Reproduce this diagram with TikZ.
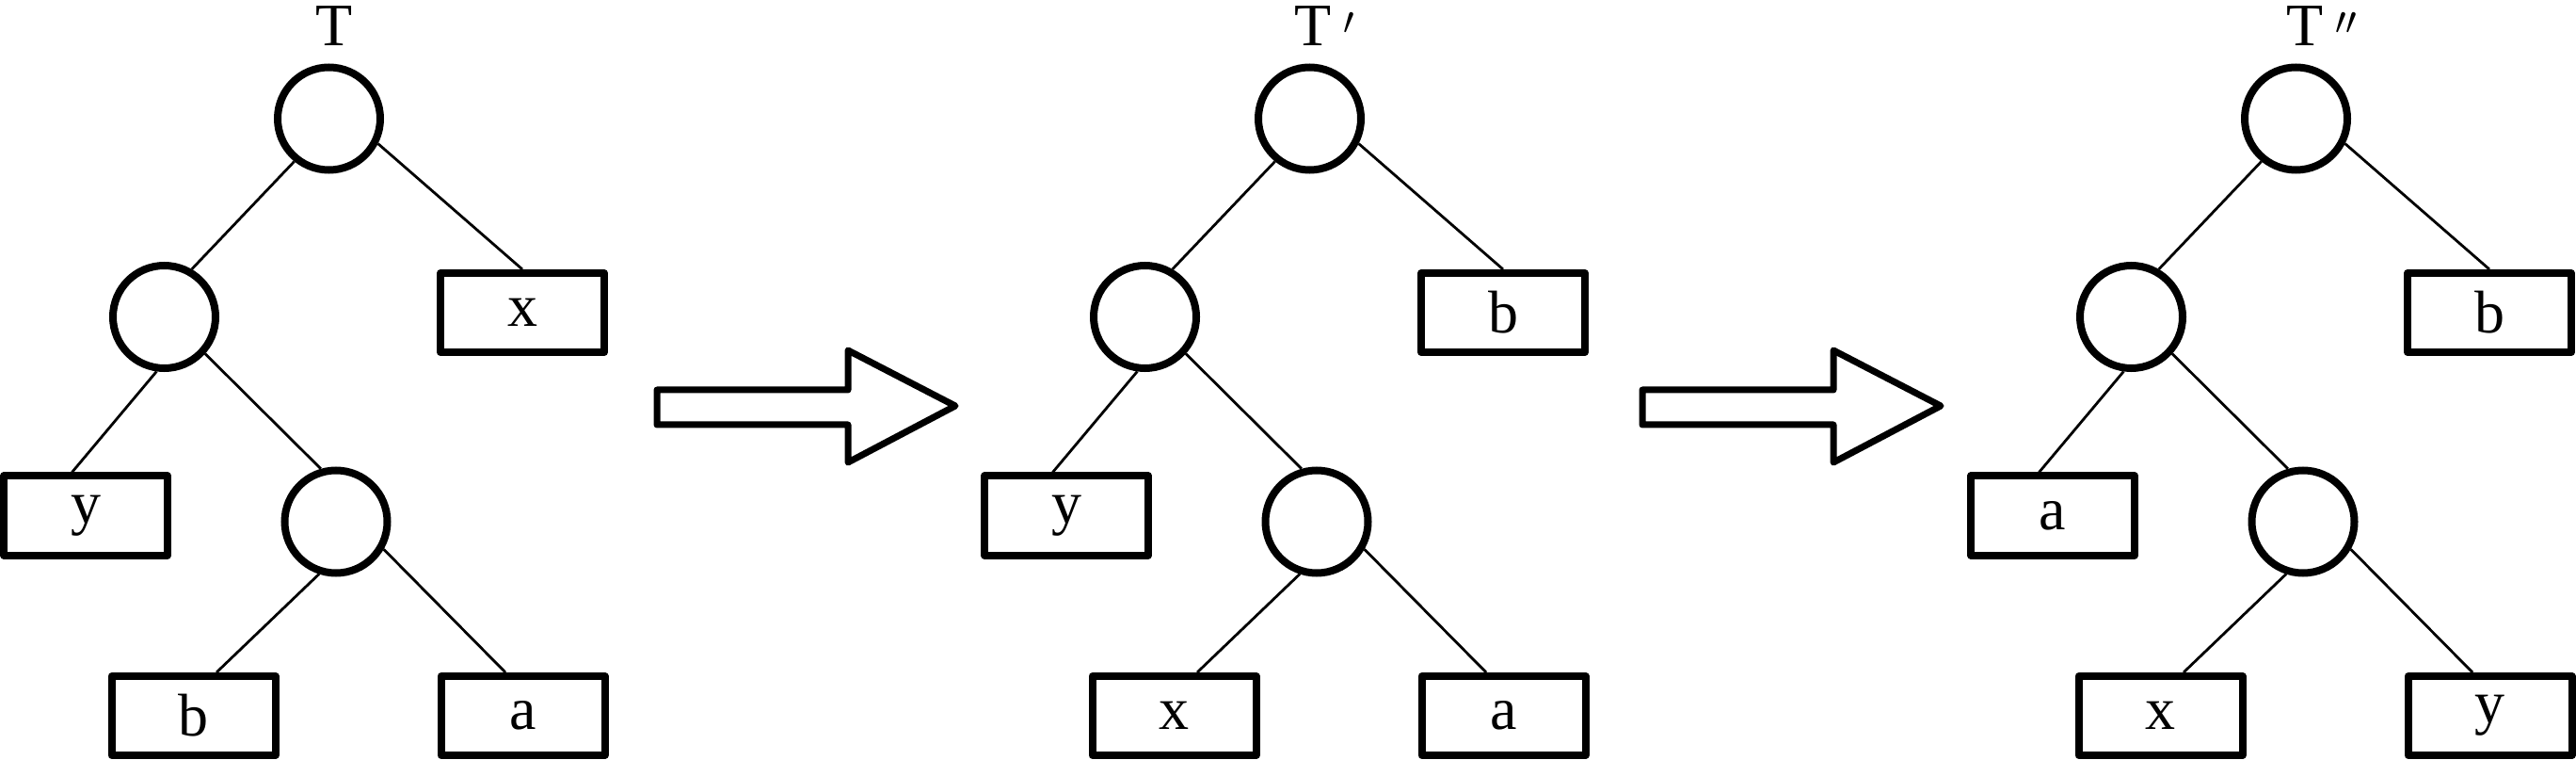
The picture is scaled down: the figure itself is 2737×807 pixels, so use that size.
\documentclass[tikz,border=0pt]{standalone}
\usepackage{fontspec}
\setmainfont{Liberation Serif}
\tikzset{
  cnode/.style={circle, draw, line width=4pt, minimum size=54.5pt, inner sep=0pt},
  leaf/.style={rectangle, draw, line width=4pt, minimum width=87pt, minimum height=42pt,
    inner sep=0pt, line join=round, font=\fontsize{32pt}{38pt}\selectfont},
  edge/.style={line width=1.4pt},
  title/.style={anchor=base, inner sep=0pt, font=\fontsize{32pt}{38pt}\selectfont},
  bigarrow/.style={line width=3.5pt, line join=round}
}
% #1 shift, #2 prefix, #3 top-right leaf, #4 middle-left leaf, #5 bottom-left leaf, #6 bottom-right leaf
\newcommand\bintree[6]{%
  \begin{scope}[shift={(#1,0)}]
    \node[cnode] (#2r) at (349.5,126) {};
    \node[cnode] (#2m) at (174.5,336.5) {};
    \node[cnode] (#2n) at (357,554) {};
    \node[leaf] (#2A) at (555,332) {#3};
    \node[leaf] (#2B) at (91,547.5) {#4};
    \node[leaf] (#2C) at (205.5,760) {#5};
    \node[leaf] (#2D) at (555.5,760) {#6};
    \draw[edge] (#2r.231.6) -- (#2m.60);
    \draw[edge] (#2r.-27) -- (#2A.north);
    \draw[edge] (#2m.262.5) -- ([xshift=-7.25pt]#2B.north);
    \draw[edge] (#2m.-42) -- (#2n.106.6);
    \draw[edge] (#2n.252.5) -- ([xshift=12.25pt]#2C.north);
    \draw[edge] (#2n.-30) -- ([xshift=-9.25pt]#2D.north);
  \end{scope}}
\newcommand\primemark[1]{\rlap{\hspace{6pt}\raisebox{-3pt}{$^{#1}$}}}
\begin{document}
\begin{tikzpicture}[x=0.5pt,y=-0.5pt]
  \useasboundingbox (0,0) rectangle (2737,807);
  \bintree{0}{a}{x}{y}{b}{a}
  \bintree{1042}{b}{b}{y}{x}{a}
  \bintree{2090}{c}{b}{a}{x}{y}
  \node[title] (t1) at (355.5,49) {T};
  \node[title] (t2) at (1395.5,49) {T\primemark{\prime}};
  \node[title] (t3) at (2449.5,49) {T\primemark{\prime\prime}};
  \draw[bigarrow] (698,414) -- (901,414) -- (901,372) -- (1015,431) -- (901,491) -- (901,451) -- (698,451) -- cycle;
  \draw[bigarrow] (1745,414) -- (1948,414) -- (1948,372) -- (2062,431) -- (1948,491) -- (1948,451) -- (1745,451) -- cycle;
\end{tikzpicture}
\end{document}
